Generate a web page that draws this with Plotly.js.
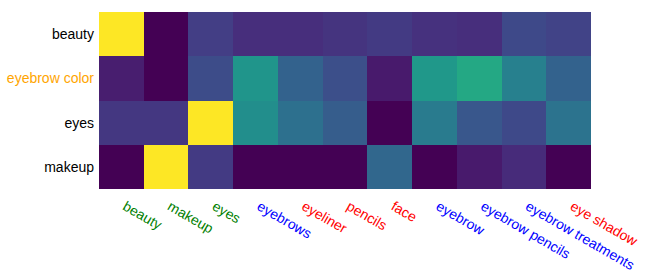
<!DOCTYPE html>
<html>
<head>
<meta charset="utf-8">
<script src="https://cdn.plot.ly/plotly-3.0.1.min.js"></script>
<style>html,body{margin:0;padding:0;background:#fff;}#chart{width:646px;height:279px;}</style>
</head>
<body>
<div id="chart"></div>
<script>
const xLabels = ["beauty","makeup","eyes","eyebrows","eyeliner","pencils","face","eyebrow","eyebrow pencils","eyebrow treatments","eye shadow"];
const xColors = ["green","green","green","blue","red","red","red","blue","blue","blue","red"];
const yLabels = ["beauty","eyebrow color","eyes","makeup"];
const yColors = ["black","orange","black","black"];
const rowBeauty = [1.0, 0.0, 0.18, 0.13, 0.13, 0.15, 0.17, 0.14, 0.13, 0.22, 0.20];
const rowEyebrowColor = [0.08, 0.0, 0.23, 0.52, 0.31, 0.24, 0.07, 0.53, 0.60, 0.43, 0.31];
const rowEyes = [0.16, 0.16, 1.0, 0.49, 0.37, 0.29, 0.0, 0.41, 0.27, 0.22, 0.38];
const rowMakeup = [0.0, 1.0, 0.17, 0.0, 0.0, 0.0, 0.33, 0.0, 0.07, 0.12, 0.0];

const z = [rowBeauty, rowEyebrowColor, rowEyes, rowMakeup];

const trace = {
  type: "heatmap",
  z: z,
  x: xLabels,
  y: yLabels,
  colorscale: "Viridis",
  zmin: 0, zmax: 1,
  showscale: false,
  xgap: 0, ygap: 0
};

const layout = {
  width: 646, height: 279,
  margin: {l: 99, r: 55, t: 12, b: 90},
  paper_bgcolor: "#fff",
  plot_bgcolor: "#fff",
  font: {family: "'Liberation Sans', Arial, sans-serif", size: 14, color: "#000"},
  xaxis: {
    tickmode: "array",
    tickvals: xLabels,
    ticktext: xLabels.map((t, i) => '<span style="color:' + xColors[i] + '">' + t + '</span>'),
    tickangle: 30,
    ticklabelstandoff: 6,
    ticklabelshift: 4,
    showgrid: false, zeroline: false, ticks: "", showline: false
  },
  yaxis: {
    tickmode: "array",
    tickvals: yLabels,
    ticktext: yLabels.map((t, i) => '<span style="color:' + yColors[i] + '">' + t + '</span>'),
    autorange: "reversed",
    ticklabelstandoff: 4,
    showgrid: false, zeroline: false, ticks: "", showline: false
  }
};

Plotly.newPlot("chart", [trace], layout, {displayModeBar: false, staticPlot: true});
</script>
</body>
</html>
